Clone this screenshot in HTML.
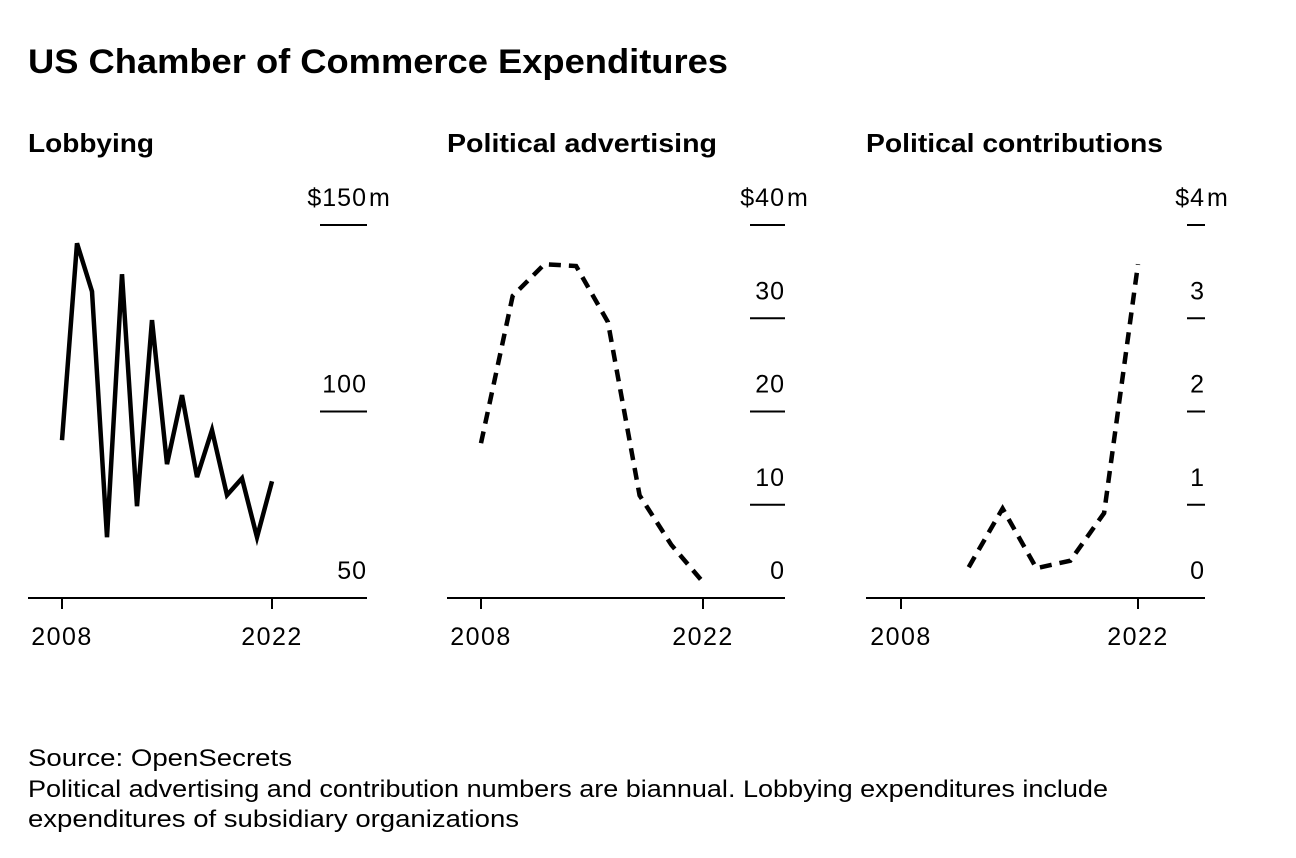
<!DOCTYPE html>
<html><head><meta charset="utf-8">
<style>
body{margin:0;background:#fff;width:1296px;height:858px;overflow:hidden;font-family:"Liberation Sans",Arial,sans-serif;color:#000}
svg{position:absolute;left:0;top:0}
</style></head>
<body>
<svg width="1296" height="858" font-family="Liberation Sans, Arial, sans-serif">
<text x="28" y="73" font-size="34" font-weight="bold" textLength="700" lengthAdjust="spacingAndGlyphs">US Chamber of Commerce Expenditures</text>
<g id="panels"></g>
<text x="28" y="766" font-size="24" textLength="264" lengthAdjust="spacingAndGlyphs">Source: OpenSecrets</text>
<text x="28" y="797" font-size="24" textLength="1080" lengthAdjust="spacingAndGlyphs">Political advertising and contribution numbers are biannual. Lobbying expenditures include</text>
<text x="28" y="827" font-size="24" textLength="491" lengthAdjust="spacingAndGlyphs">expenditures of subsidiary organizations</text>
</svg>
<script>
const lobbyYears=[2008,2009,2010,2011,2012,2013,2014,2015,2016,2017,2018,2019,2020,2021,2022];
const lobbyValues=[92.3,145.1,132.2,66.3,136.8,74.6,124.5,85.9,104.4,82.4,95,77.6,82.1,66.3,81.3];
const adYears=[2008,2010,2012,2014,2016,2018,2020,2022];
const adValues=[16.6,32.4,35.8,35.6,29.6,11,5.7,1.7];
const contribYears=[2012,2014,2016,2018,2020,2022];
const contribValues=[0.33,0.96,0.32,0.4,0.91,3.58];
const lobbyTicks=[50,100,150];
const adTicks=[0,10,20,30,40];
const contribTicks=[0,1,2,3,4];

const NS="http://www.w3.org/2000/svg";
const root=document.getElementById('panels');
function mk(tag,attrs,parent){const e=document.createElementNS(NS,tag);for(const k in attrs)e.setAttribute(k,attrs[k]);parent.appendChild(e);return e;}

const panels=[
 {name:'lobbying',title:'Lobbying',tw:126,left:28,right:367,x0:62,x1:272,tickW:47,vmin:50,vmax:150,ticks:lobbyTicks,years:lobbyYears,vals:lobbyValues,dash:null},
 {name:'political-advertising',title:'Political advertising',tw:270,left:447,right:785,x0:481,x1:703,tickW:35,vmin:0,vmax:40,ticks:adTicks,years:adYears,vals:adValues,dash:'12,8'},
 {name:'political-contributions',title:'Political contributions',tw:297,left:866,right:1205,x0:901,x1:1138,tickW:18,vmin:0,vmax:4,ticks:contribTicks,years:contribYears,vals:contribValues,dash:'12,8'}
];
const yTop=225,yBase=598;
panels.forEach(p=>{
 const g=mk('g',{},root);
 
 
 const xs=y=>p.x0+(y-2008)*(p.x1-p.x0)/14;
 const ys=v=>yBase-(v-p.vmin)*(yBase-yTop)/(p.vmax-p.vmin);
 const t=mk('text',{x:p.left,y:152,'font-size':26,'font-weight':'bold',textLength:p.tw,lengthAdjust:'spacingAndGlyphs'},g);t.textContent=p.title;
 
 
 const base=mk('line',{x1:p.left,x2:p.right,y1:yBase,y2:yBase,stroke:'#000','stroke-width':2},g);
 
 
 p.ticks.forEach((v,i,a)=>{
  const y=ys(v);
  const last=i===a.length-1;
  if(y<yBase-1){
   const l=mk('line',{x1:p.right-p.tickW,x2:p.right,y1:y,y2:y,stroke:'#000','stroke-width':2},g);
   
   
  }
  const tx=mk('text',{x:p.right,y:y-19,'font-size':25,'text-anchor':'end','letter-spacing':'1'},g);
  tx.textContent=(last?'$':'')+v;
  
  
  if(last){
   const m=mk('text',{x:p.right+2,y:y-19,'font-size':25},g);
   m.textContent='m';
   
   
  }
 });
 [2008,2022].forEach(yr=>{
  const l=mk('line',{x1:xs(yr),x2:xs(yr),y1:yBase,y2:yBase+11,stroke:'#000','stroke-width':2},g);
  
  
  const tx=mk('text',{x:xs(yr),y:645,'font-size':25,'text-anchor':'middle','letter-spacing':'1.5'},g);
  tx.textContent=String(yr);
  
  
 });
 const pts=p.years.map((yr,i)=>xs(yr).toFixed(1)+','+ys(p.vals[i]).toFixed(1)).join(' ');
 const attrs={points:pts,fill:'none',stroke:'#000','stroke-width':4.5,'stroke-linejoin':'miter'};
 if(p.dash)attrs['stroke-dasharray']=p.dash;
 const line=mk('polyline',attrs,g);
 
 
});
</script>
</body></html>
